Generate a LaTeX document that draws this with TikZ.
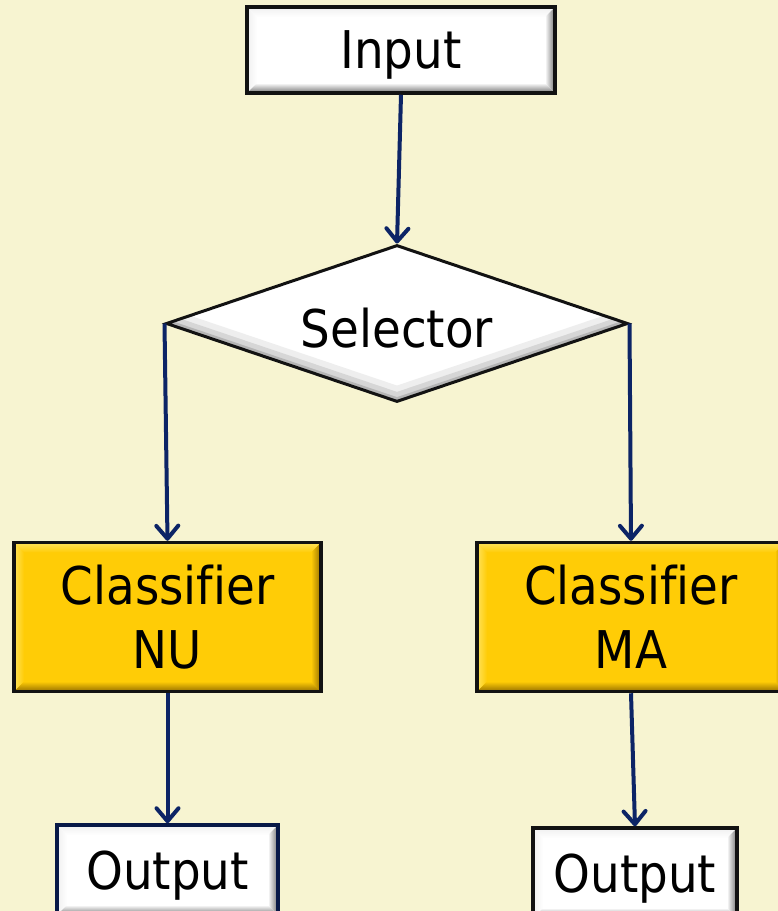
\documentclass[tikz,border=0pt]{standalone}
\usepackage{fontspec}
\setmainfont[Ligatures=NoCommon]{DejaVu Sans Condensed}
\usetikzlibrary{shapes.geometric,arrows.meta}

\definecolor{paper}{RGB}{247,244,209}
\definecolor{gold}{RGB}{255,204,6}
\definecolor{goldlight}{RGB}{255,226,90}
\definecolor{golddark}{RGB}{150,112,0}
\definecolor{navy}{RGB}{12,36,102}
\definecolor{edge}{RGB}{18,18,18}
\definecolor{shadowgray}{RGB}{120,120,120}

% bevelled box: #1 face, #2 light bevel, #3 dark bevel
\newcommand{\bevelfaces}[3]{%
  \path (path picture bounding box.south west) coordinate (bl)
        (path picture bounding box.north east) coordinate (tr);
  \shade[top color=#2, bottom color=#1]
    (bl |- tr) -- (tr) -- ([shift={(-10pt,-10pt)}]tr) -- ([shift={(10pt,-10pt)}]bl |- tr) -- cycle;
  \shade[left color=#2, right color=#1]
    (bl) -- (bl |- tr) -- ([shift={(10pt,-10pt)}]bl |- tr) -- ([shift={(10pt,10pt)}]bl) -- cycle;
  \shade[left color=#1, right color=#3]
    (tr) -- (tr |- bl) -- ([shift={(-10pt,10pt)}]tr |- bl) -- ([shift={(-10pt,-10pt)}]tr) -- cycle;
  \shade[top color=#1, bottom color=#3]
    (tr |- bl) -- (bl) -- ([shift={(10pt,10pt)}]bl) -- ([shift={(-10pt,10pt)}]tr |- bl) -- cycle;
}

\tikzset{
  x=1pt, y=-1pt,
  every node/.style={font=\fontsize{52}{64}\selectfont, text=black, text depth=0pt},
  whitebox/.style={rectangle, draw=edge, line width=3.5pt, fill=white, inner sep=0pt,
    path picture={\bevelfaces{white}{white!94!black}{black!55}}},
  goldbox/.style={rectangle, draw=edge, line width=3.5pt, fill=gold, inner sep=0pt, align=center,
    path picture={\bevelfaces{gold}{goldlight}{golddark}}},
  decision/.style={diamond, draw=edge, line width=3pt, fill=white, inner sep=0pt, aspect=2.94,
    path picture={
      \foreach \w/\o in {30/0.12,18/0.2,8/0.35}{
        \draw[shadowgray, line width=\w pt, opacity=\o]
          (path picture bounding box.west) -- (path picture bounding box.south)
          -- (path picture bounding box.east);
      }}},
  flow/.style={draw=navy, line width=4pt,
    -{Straight Barb[length=13pt,width=22pt,line width=4pt,round]}}
}

\begin{document}
\begin{tikzpicture}
  \fill[paper] (0,0) rectangle (778,911);
  \useasboundingbox (0,0) rectangle (778,911);

  \node[whitebox, minimum width=308pt, minimum height=86pt] (in) at (401,50) {Input};
  \node[decision, minimum width=462pt, minimum height=157pt] (sel) at (397,323.5) {};
  \node at (397,328) {Selector};

  \node[goldbox, minimum width=307pt, minimum height=149pt] (nu) at (167.5,617) {Classifier\\NU};
  \node[goldbox, minimum width=308pt, minimum height=149pt] (ma) at (631,617) {Classifier\\MA};

  \node[whitebox, draw=navy!70!black, minimum width=221pt, minimum height=90pt] (onu) at (167.5,870) {Output};
  \node[whitebox, minimum width=204pt, minimum height=90pt] (oma) at (635,873) {Output};

  \draw[flow] (in.south) -- (sel.north);
  \draw[flow] (sel.west) -- (nu.north);
  \draw[flow] (sel.east) -- (ma.north);
  \draw[flow] (nu.south) -- (onu.north);
  \draw[flow] (ma.south) -- (oma.north);
\end{tikzpicture}
\end{document}
